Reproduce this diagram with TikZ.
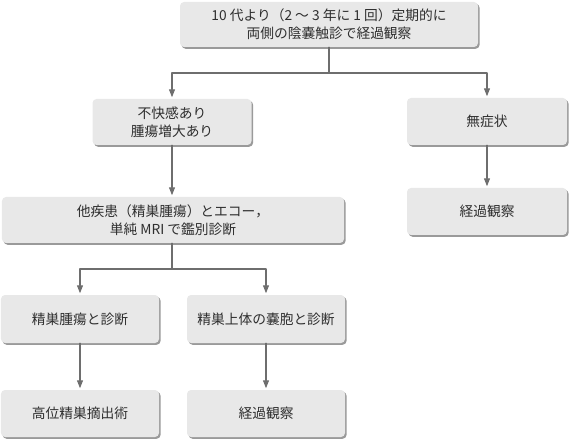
\documentclass[tikz,border=0pt]{standalone}
\usepackage{fontspec}
\setmainfont{Noto Sans CJK JP}
\usetikzlibrary{arrows.meta,shadows}
\definecolor{boxfill}{HTML}{E8E8E8}
\definecolor{boxshade}{HTML}{9A9A9A}
\definecolor{linegray}{HTML}{6E6E6E}
\definecolor{textgray}{HTML}{2E2E2E}

\begin{document}
\begin{tikzpicture}[x=1bp, y=-1bp, line cap=round, line join=round, >=Triangle]
\tikzset{flowbox/.style={fill=boxfill, rounded corners=4bp, inner sep=0pt, align=center,
    text=textgray, font=\fontsize{13.8}{18}\selectfont,
    drop shadow={shadow xshift=1.6bp, shadow yshift=-1.8bp, fill=boxshade, opacity=1}},
  link/.style={draw=linegray, line width=1.1bp},
  arrow/.style={link, -{Triangle[length=8bp,width=6bp]}, shorten >=1.5bp}}
\useasboundingbox (0,0) rectangle (570,440);

% boxes (px)
\node[flowbox, minimum width=298bp, minimum height=45bp] (top) at (329,24.5)
  {10 代より（2 ～ 3 年に 1 回）定期的に\\両側の陰嚢触診で経過観察};
\node[flowbox, minimum width=159bp, minimum height=46bp] (sympt) at (172,122)
  {不快感あり\\腫瘍増大あり};
\node[flowbox, minimum width=160bp, minimum height=47bp] (nosympt) at (487,121.5) {無症状};
\node[flowbox, minimum width=160bp, minimum height=47bp] (watchR) at (487,211.5) {経過観察};
\node[flowbox, minimum width=342bp, minimum height=46bp] (diff) at (173,220)
  {他疾患（精巣腫瘍）とエコー，\\単純 MRI で鑑別診断};
\node[flowbox, minimum width=158bp, minimum height=48bp] (tumor) at (80,319) {精巣腫瘍と診断};
\node[flowbox, minimum width=158bp, minimum height=48bp] (cyst) at (266,319) {精巣上体の嚢胞と診断};
\node[flowbox, minimum width=158bp, minimum height=47bp] (orchi) at (80,413.5) {高位精巣摘出術};
\node[flowbox, minimum width=158bp, minimum height=47bp] (watchL) at (266,413.5) {経過観察};

% junctions
\coordinate (j1) at (329,73);
\coordinate (j2) at (172,269);

% connectors
\draw[link] (top.south) -- (j1);
\draw[arrow] (j1) -| (sympt.north);
\draw[arrow] (j1) -| (nosympt.north);
\draw[arrow] (nosympt.south) -- (watchR.north);
\draw[arrow] (sympt.south) -- (sympt.south |- diff.north);
\draw[link] (diff.south -| j2) -- (j2);
\draw[arrow] (j2) -| (tumor.north);
\draw[arrow] (j2) -| (cyst.north);
\draw[arrow] (tumor.south) -- (orchi.north);
\draw[arrow] (cyst.south) -- (watchL.north);
\end{tikzpicture}
\end{document}
